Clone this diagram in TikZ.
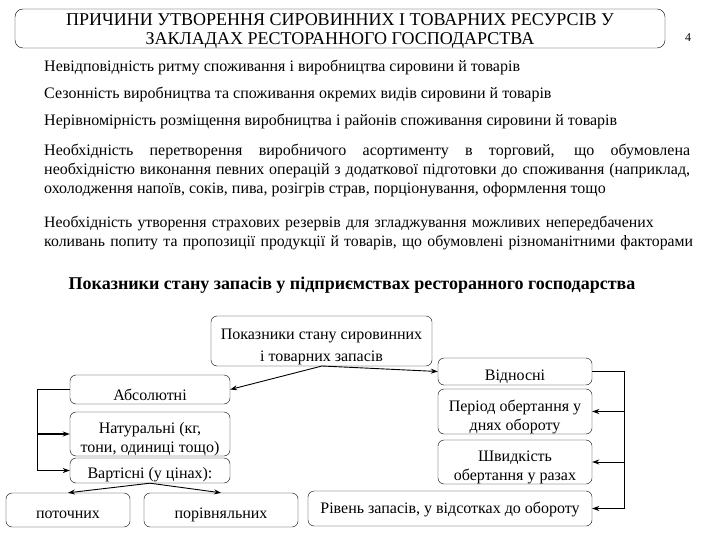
\documentclass[tikz,border=0pt]{standalone}
\usepackage{fontspec}
\setmainfont{Liberation Serif}
\usetikzlibrary{arrows.meta}
\begin{document}
\begin{tikzpicture}[x=1pt,y=-1pt,
  box/.style={draw, rounded corners=6pt, inner sep=0pt},
  btxt/.style={inner sep=0pt, align=center, font=\fontsize{16}{19}\selectfont},
  txt/.style={anchor=base west, inner sep=0pt, font=\fontsize{16}{19}\selectfont},
  arr/.style={-{Stealth[length=7pt,width=5pt]}, line width=0.9pt},
  ln/.style={line width=0.9pt}]
\useasboundingbox (0,0) rectangle (720,540);

% title
\node[box, rounded corners=8pt, minimum width=650pt, minimum height=39pt] (title) at (340,28.5) {};
\node[btxt, font=\fontsize{18}{19}\selectfont] (titletext) at (340,30.5)
  {ПРИЧИНИ УТВОРЕННЯ СИРОВИННИХ І ТОВАРНИХ РЕСУРСІВ У\\ЗАКЛАДАХ РЕСТОРАННОГО ГОСПОДАРСТВА};
\node[font=\fontsize{12}{14}\selectfont, inner sep=0pt] (pnum) at (688,38) {4};

% reasons
\node[txt] (r1) at (44,72) {Невідповідність ритму споживання і виробництва сировини й товарів};
\node[txt] (r2) at (44,99) {Сезонність виробництва та споживання окремих видів сировини й товарів};
\node[txt] (r3) at (44,126) {Нерівномірність розміщення виробництва і районів споживання сировини й товарів};
\node[txt, text width=646pt, align=justify] (r4) at (44,156)
  {Необхідність перетворення виробничого асортименту в торговий, що обумовлена\linebreak
   необхідністю виконання певних операцій з додаткової підготовки до споживання (наприклад,\linebreak
   охолодження напоїв, соків, пива, розігрів страв, порціонування, оформлення тощо};
\node[txt, text width=670pt, align=left, font=\fontsize{15.8}{19}\selectfont] (r5) at (44,228)
  {Необхідність утворення страхових резервів для згладжування можливих непередбачених\\
   коливань попиту та пропозиції продукції й товарів, що обумовлені різноманітними факторами};

% heading
\node[anchor=base, inner sep=0pt, font=\fontsize{18}{20}\selectfont\bfseries] (head) at (352,289)
  {Показники стану запасів у підприємствах ресторанного господарства};

% boxes
\node[box, minimum width=221pt, minimum height=50pt] (top) at (321.5,341) {};
\node[btxt, font=\fontsize{16}{22}\selectfont] (toptext) at (321.5,346.5) {Показники стану сировинних\\і товарних запасів};
\node[box, minimum width=154pt, minimum height=27pt] (rel) at (515,371.5) {};
\node[btxt] (reltext) at (515,377) {Відносні};
\node[box, minimum width=160pt, minimum height=29pt] (abs) at (150,389.5) {};
\node[btxt] (abstext) at (150,394.5) {Абсолютні};
\node[box, minimum width=160pt, minimum height=44pt] (nat) at (150,434) {};
\node[btxt] (nattext) at (150,439) {Натуральні (кг,\\тони, одиниці тощо)};
\node[box, minimum width=160pt, minimum height=25pt] (val) at (150,470.5) {};
\node[btxt] (valtext) at (150,474.5) {Вартісні (у цінах):};
\node[box, minimum width=124pt, minimum height=34pt] (cur) at (68,510) {};
\node[btxt] (curtext) at (68,514.5) {поточних};
\node[box, minimum width=154pt, minimum height=34pt] (cmp) at (221,510) {};
\node[btxt] (cmptext) at (221,514.5) {порівняльних};
\node[box, minimum width=154pt, minimum height=45pt] (per) at (515,411.5) {};
\node[btxt] (pertext) at (515,417) {Період обертання у\\днях обороту};
\node[box, minimum width=154pt, minimum height=44pt] (spd) at (515,462) {};
\node[btxt] (spdtext) at (515,467.5) {Швидкість\\обертання у разах};
\node[box, minimum width=284pt, minimum height=35pt] (lvl) at (450,508.5) {};
\node[btxt] (lvltext) at (450,509.5) {Рівень запасів, у відсотках до обороту};

% connectors
\coordinate (tb) at (322,366);
\draw[arr] (tb) -- (abs.east);
\draw[arr] (tb) -- (rel.west);

\coordinate (lb1) at (37,389.5);
\coordinate (lb2) at (37,434);
\coordinate (lb3) at (37,470.5);
\draw[ln] (abs.west) -- (lb1) -- (lb3);
\draw[arr, line width=1.4pt] (lb2) -- (nat.west);
\draw[arr] (lb3) -- (val.west);

\draw[arr] (val.south) -- (cur.north);
\draw[arr] (val.south) -- (cmp.north);

\coordinate (rb1) at (624,371.5);
\coordinate (rb2) at (624,411.5);
\coordinate (rb3) at (624,462);
\coordinate (rb4) at (624,508.5);
\draw[ln] (rel.east) -- (rb1) -- (rb4);
\draw[arr, line width=1.4pt] (rb2) -- (per.east);
\draw[arr] (rb3) -- (spd.east);
\draw[arr, line width=1.4pt] (rb4) -- (lvl.east);
\end{tikzpicture}
\end{document}
